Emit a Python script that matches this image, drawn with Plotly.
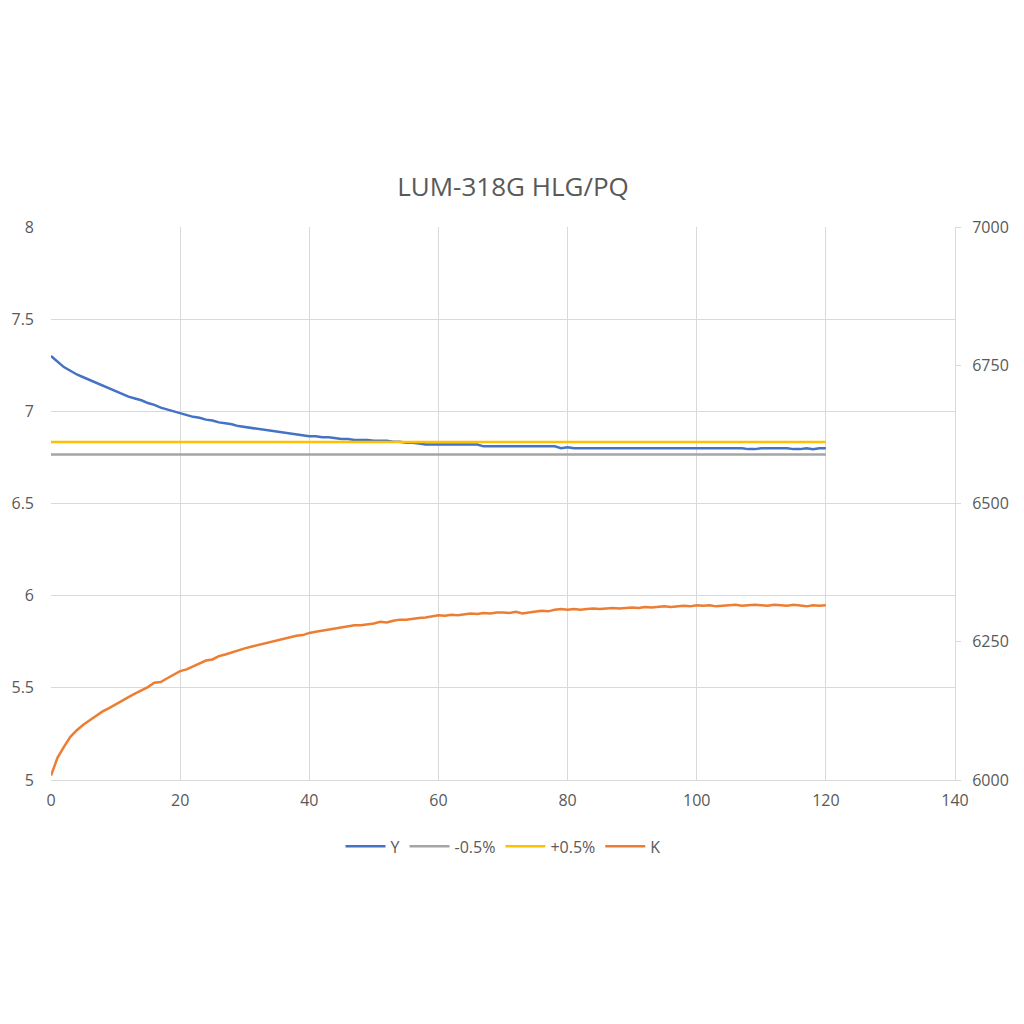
import plotly.graph_objects as go

# ---------------- data ----------------
minutes = list(range(0, 121))

y_lum = [
    7.30, 7.27, 7.24, 7.22, 7.20, 7.185, 7.17, 7.155, 7.14, 7.125,
    7.11, 7.095, 7.08, 7.07, 7.06, 7.045, 7.035, 7.02, 7.01, 7.00,
    6.99, 6.98, 6.97, 6.965, 6.955, 6.95, 6.94, 6.935, 6.93, 6.92,
    6.915, 6.91, 6.905, 6.90, 6.895, 6.89, 6.885, 6.88, 6.875, 6.87,
    6.865, 6.865, 6.86, 6.86, 6.855, 6.85, 6.85, 6.845, 6.845, 6.845,
    6.84, 6.84, 6.84, 6.835, 6.835, 6.83, 6.83, 6.825, 6.82, 6.82,
    6.82, 6.82, 6.82, 6.82, 6.82, 6.82, 6.82, 6.81, 6.81, 6.81,
    6.81, 6.81, 6.81, 6.81, 6.81, 6.81, 6.81, 6.81, 6.81, 6.80,
    6.805, 6.80, 6.80, 6.80, 6.80, 6.80, 6.80, 6.80, 6.80, 6.80,
    6.80, 6.80, 6.80, 6.80, 6.80, 6.80, 6.80, 6.80, 6.80, 6.80,
    6.80, 6.80, 6.80, 6.80, 6.80, 6.80, 6.80, 6.80, 6.795, 6.795,
    6.80, 6.80, 6.80, 6.80, 6.80, 6.795, 6.795, 6.80, 6.795, 6.80,
    6.80,
]

k_cct = [
    6008, 6040, 6060, 6078, 6090, 6100, 6108, 6116, 6124, 6130,
    6137, 6144, 6150, 6156, 6162, 6168, 6176, 6177, 6184, 6190,
    6197, 6200, 6205, 6210, 6216, 6218, 6224, 6227, 6231, 6234,
    6238, 6241, 6244, 6247, 6250, 6252, 6256, 6258, 6261, 6262,
    6266, 6268, 6270, 6273, 6274, 6277, 6279, 6280, 6280, 6281,
    6283, 6286, 6285, 6288, 6290, 6290, 6292, 6293, 6294, 6296,
    6298, 6297, 6299, 6298, 6300, 6301, 6300, 6302, 6301, 6303,
    6303, 6302, 6304, 6301, 6303, 6304, 6306, 6305, 6308, 6309,
    6308, 6309, 6308, 6309, 6310, 6309, 6310, 6311, 6310, 6311,
    6312, 6311, 6313, 6312, 6313, 6314, 6313, 6314, 6315, 6314,
    6316, 6315, 6316, 6314, 6315, 6316, 6317, 6315, 6316, 6317,
    6316, 6315, 6317, 6316, 6315, 6317, 6316, 6314, 6316, 6315,
    6316,
]

LOWER_LIMIT = 6.766   # -0.5%
UPPER_LIMIT = 6.834   # +0.5%
lower = [LOWER_LIMIT for _ in minutes]
upper = [UPPER_LIMIT for _ in minutes]

left_ticks = [5, 5.5, 6, 6.5, 7, 7.5, 8]
right_ticks = [6000, 6250, 6500, 6750, 7000]
x_ticks = [0, 20, 40, 60, 80, 100, 120, 140]

# ---------------- figure ----------------
FONT = "'Open Sans', sans-serif"
TXT = "#595959"
GRID = "#d9d9d9"

fig = go.Figure()
fig.add_trace(go.Scatter(x=minutes, y=y_lum, name="Y", mode="lines",
                         line=dict(color="#4472C4", width=2.5)))
fig.add_trace(go.Scatter(x=minutes, y=lower, name="-0.5%", mode="lines",
                         line=dict(color="#A5A5A5", width=2.5)))
fig.add_trace(go.Scatter(x=minutes, y=upper, name="+0.5%", mode="lines",
                         line=dict(color="#FFC000", width=2.5)))
fig.add_trace(go.Scatter(x=minutes, y=k_cct, name="K", mode="lines",
                         yaxis="y2", line=dict(color="#ED7D31", width=2.5)))

fig.update_layout(
    width=1024, height=1024,
    paper_bgcolor="white", plot_bgcolor="white",
    margin=dict(l=43, r=77, t=219, b=252, pad=0, autoexpand=False),
    title=dict(text="LUM-318G HLG/PQ", x=(513 - 8) / 1024, xanchor="center",
               y=1 - 179 / 1024, yanchor="middle",
               font=dict(family=FONT, size=26, color=TXT)),
    font=dict(family=FONT, size=16, color=TXT),
    xaxis=dict(range=[0, 140], tickvals=x_ticks, showgrid=True,
               gridcolor=GRID, gridwidth=1, zeroline=False,
               showline=True, linecolor=GRID, linewidth=1,
               ticks="", ticklabelstandoff=6, automargin=False,
               tickfont=dict(family=FONT, size=16, color=TXT)),
    yaxis=dict(range=[5, 8], tickvals=left_ticks, showgrid=True,
               gridcolor=GRID, gridwidth=1, zeroline=False,
               showline=False, ticks="", ticklabelstandoff=16,
               automargin=False,
               tickfont=dict(family=FONT, size=16, color=TXT)),
    yaxis2=dict(range=[6000, 7000], tickvals=right_ticks, overlaying="y",
                side="right", showgrid=False, zeroline=False,
                showline=True, linecolor=GRID, linewidth=1,
                ticks="outside", ticklen=5, tickcolor=GRID,
                ticklabelstandoff=8, automargin=False,
                tickfont=dict(family=FONT, size=16, color=TXT)),
    legend=dict(orientation="h", x=0.5, xanchor="center", y=-0.12,
                yanchor="middle", font=dict(family=FONT, size=16, color=TXT),
                itemwidth=40, tracegroupgap=0),
    showlegend=True,
)

fig.write_html("out.html")
